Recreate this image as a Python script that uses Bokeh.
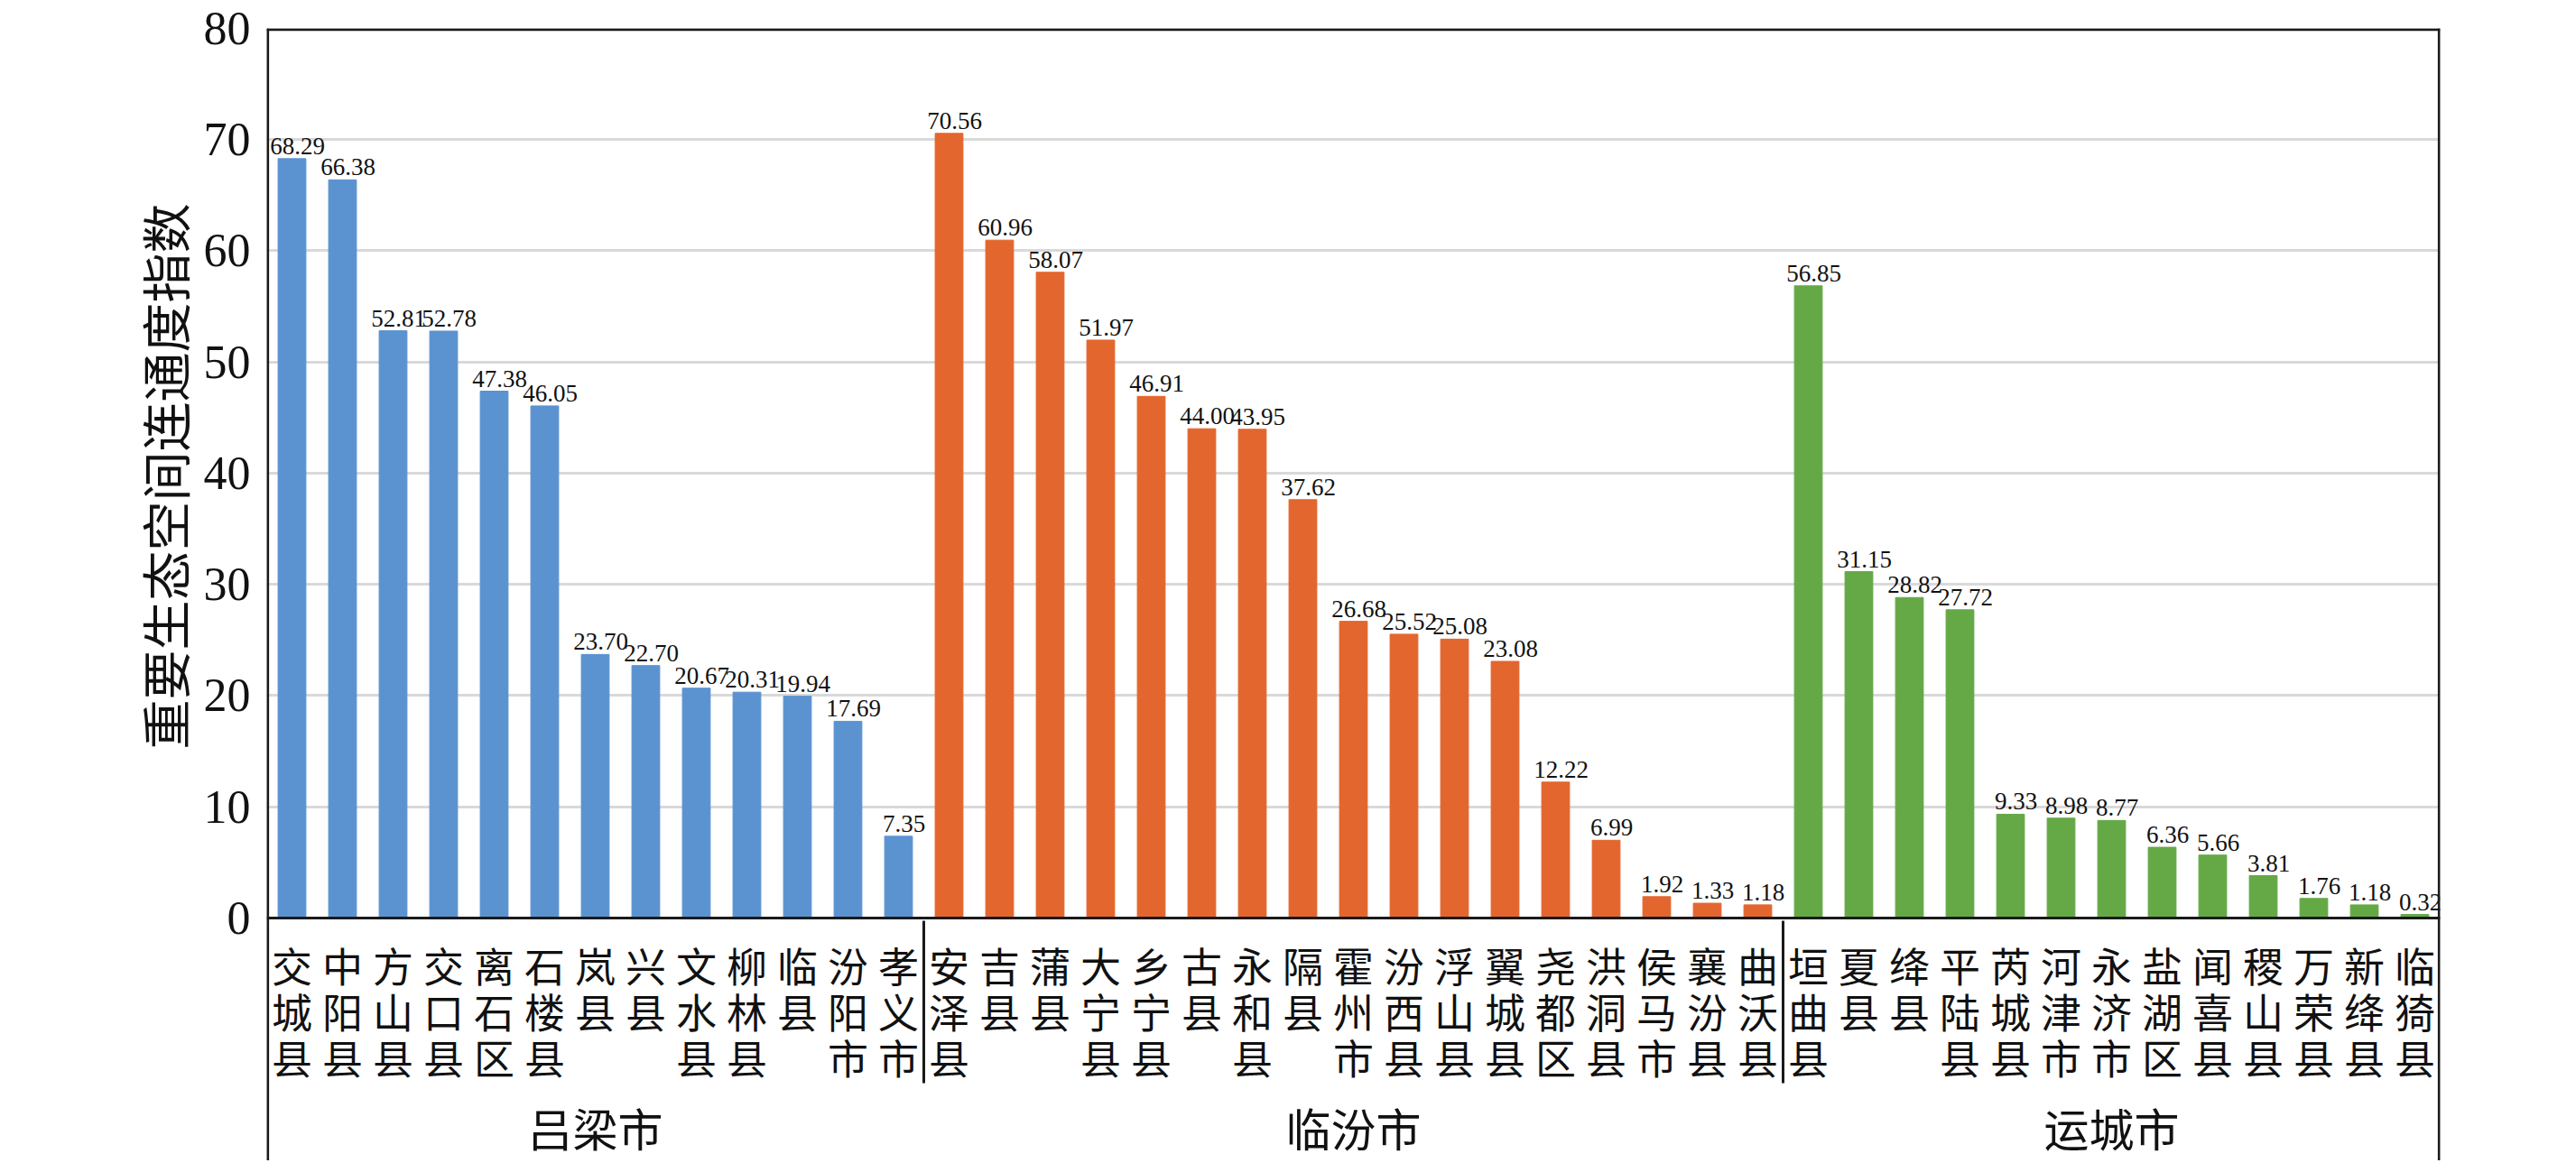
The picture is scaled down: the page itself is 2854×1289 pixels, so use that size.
from bokeh.plotting import figure
from bokeh.models import FactorRange, FixedTicker, Span, Title, ColumnDataSource
from bokeh.core.properties import value
from bokeh.embed import file_html
from bokeh.resources import INLINE

groups = ["吕梁市", "临汾市", "运城市"]
lvliang_names = ["交城县", "中阳县", "方山县", "交口县", "离石区", "石楼县", "岚县", "兴县",
                 "文水县", "柳林县", "临县", "汾阳市", "孝义市"]
lvliang_vals = [68.29, 66.38, 52.81, 52.78, 47.38, 46.05, 23.70, 22.70, 20.67, 20.31, 19.94, 17.69, 7.35]
linfen_names = ["安泽县", "吉县", "蒲县", "大宁县", "乡宁县", "古县", "永和县", "隔县", "霍州市",
                "汾西县", "浮山县", "翼城县", "尧都区", "洪洞县", "侯马市", "襄汾县", "曲沃县"]
linfen_vals = [70.56, 60.96, 58.07, 51.97, 46.91, 44.00, 43.95, 37.62, 26.68, 25.52, 25.08, 23.08,
               12.22, 6.99, 1.92, 1.33, 1.18]
yuncheng_names = ["垣曲县", "夏县", "绛县", "平陆县", "芮城县", "河津市", "永济市", "盐湖区", "闻喜县",
                  "稷山县", "万荣县", "新绛县", "临猗县"]
yuncheng_vals = [56.85, 31.15, 28.82, 27.72, 9.33, 8.98, 8.77, 6.36, 5.66, 3.81, 1.76, 1.18, 0.32]
group_colors = ["#5B93D1", "#E3662E", "#65A947"]
y_ticks = [0, 10, 20, 30, 40, 50, 60, 70, 80]
grid_ticks = [10, 20, 30, 40, 50, 60, 70]
y_title = "重要生态空间连通度指数"

names_by_group = [lvliang_names, linfen_names, yuncheng_names]
vals_by_group = [lvliang_vals, linfen_vals, yuncheng_vals]

xs, ys, cols, labels = [], [], [], []
for g, names, vals, c in zip(groups, names_by_group, vals_by_group, group_colors):
    for n, v in zip(names, vals):
        xs.append((g, "\n".join(list(n))))
        ys.append(v)
        cols.append(c)
        labels.append(f"{v:.2f}")

src = ColumnDataSource(dict(x=xs, y=ys, c=cols, t=labels))

xr = FactorRange(*xs, group_padding=0, factor_padding=0, range_padding=0)

Y_MIN = -21.83          # frame extends below 0 so the category axis (fixed at y=0) sits inside it
GROUP_LABEL_Y = -18.8   # layout position of the city (group) names, below the county names

p = figure(x_range=xr, y_range=(Y_MIN, 80), frame_width=2408, frame_height=1255,
           min_border_left=295, min_border_right=140, min_border_top=31, min_border_bottom=0,
           output_backend="svg", toolbar_location=None, background_fill_color="white",
           border_fill_color="white")
p.outline_line_color = None

p.vbar(x="x", top="y", width=0.55, color="c", source=src)
p.text(x="x", y="y", text="t", source=src, text_font=value("Liberation Serif"),
       text_font_size="27px", text_align="center", text_baseline="bottom",
       x_offset=6, y_offset=-5, text_color="#111111")

# city names centred under each group (a top-level factor maps to its group's centre)
p.text(x=groups, y=[GROUP_LABEL_Y] * len(groups), text=groups,
       text_font=value("Noto Sans CJK SC"), text_font_size="50px", text_align="center",
       text_baseline="middle", text_color="#111111")

p.xgrid.grid_line_color = None
p.ygrid.ticker = FixedTicker(ticks=grid_ticks)
p.ygrid.grid_line_color = "#D9D9D9"
p.ygrid.grid_line_width = 3

p.yaxis.ticker = FixedTicker(ticks=y_ticks)
p.yaxis.bounds = (0, 80)
p.yaxis.axis_line_color = None
p.yaxis.major_tick_line_color = None
p.yaxis.minor_tick_line_color = None
p.yaxis.major_tick_out = 0
p.yaxis.major_label_standoff = 18
p.yaxis.major_label_text_font = "Liberation Serif"
p.yaxis.major_label_text_font_size = "52px"
p.yaxis.major_label_text_color = "#111111"

# y-axis title, aligned with the 0-80 part of the frame
p.add_layout(Title(text=y_title, align="left", offset=456, text_font="Noto Sans CJK SC",
                   text_font_size="55px", text_font_style="normal", text_color="#111111",
                   standoff=4), "left")

ax = p.xaxis[0]
ax.fixed_location = 0
ax.axis_line_color = "#1a1a1a"
ax.axis_line_width = 3
ax.major_tick_line_color = None
ax.minor_tick_line_color = None
ax.major_tick_out = 0
ax.major_label_standoff = 20
ax.major_label_orientation = "horizontal"
ax.major_label_text_font = "Noto Sans CJK SC"
ax.major_label_text_font_size = "45px"
ax.major_label_text_color = "#111111"
ax.major_label_text_line_height = 0.78
ax.group_text_font_size = "1px"
ax.group_text_color = None
ax.group_label_orientation = "horizontal"
ax.separator_line_color = "#1a1a1a"
ax.separator_line_width = 3

# frame border lines: top edge, plus left and right edges running down past the labels
p.add_layout(Span(location=79.9, dimension="width", line_color="#1a1a1a", line_width=3))
p.add_layout(Span(location=0.02, dimension="height", line_color="#1a1a1a", line_width=3))
p.add_layout(Span(location=len(xs) - 0.02, dimension="height", line_color="#1a1a1a", line_width=3))

open("out.html", "w").write(file_html(p, INLINE))
